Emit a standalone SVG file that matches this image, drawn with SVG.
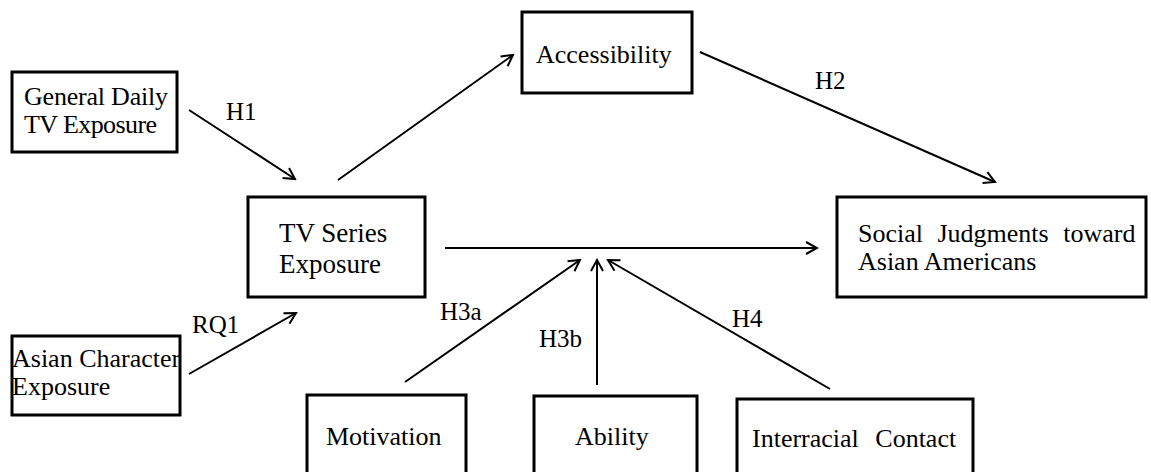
<svg xmlns="http://www.w3.org/2000/svg" width="1151" height="472" viewBox="0 0 1151 472">
<defs>
<style>
.box{fill:#fff;stroke:#000;stroke-width:3}
.t{font-size:26px;fill:#000}
.lbl{font-size:25px;fill:#000}
.c{stroke:#000;stroke-width:2;fill:none;marker-end:url(#ah)}
</style>
<marker id="ah" viewBox="0 0 14 14" refX="12" refY="7" markerWidth="14" markerHeight="14" markerUnits="userSpaceOnUse" orient="auto">
<path d="M1,1 L12,7 L1,13" fill="none" stroke="#000" stroke-width="2"/>
</marker>
</defs>
<rect width="1151" height="472" fill="#fff"/>
<g font-family="Liberation Serif, DejaVu Serif, Noto Serif, FreeSerif, Times, serif">
<g id="connectors">
<line class="c" x1="189" y1="110" x2="295" y2="179"/>
<line class="c" x1="338" y1="180" x2="513" y2="55"/>
<line class="c" x1="700" y1="52" x2="995" y2="182"/>
<line class="c" x1="189" y1="374" x2="296" y2="313"/>
<line class="c" x1="445" y1="248" x2="817" y2="248"/>
<line class="c" x1="405" y1="382" x2="580" y2="260"/>
<line class="c" x1="597" y1="385" x2="597" y2="260"/>
<line class="c" x1="830" y1="389" x2="608" y2="260"/>
<text class="lbl" x="226" y="120">H1</text>
<text class="lbl" x="815" y="89">H2</text>
<text class="lbl" x="192" y="333">RQ1</text>
<text class="lbl" x="440" y="320">H3a</text>
<text class="lbl" x="539" y="347">H3b</text>
<text class="lbl" x="732" y="327">H4</text>
</g>
<g id="general-daily">
<rect class="box" x="12" y="72" width="165" height="80"/>
<text class="t" x="24" y="105" textLength="144">General Daily</text>
<text class="t" x="24" y="133" textLength="133">TV Exposure</text>
</g>
<g id="asian-character">
<rect class="box" x="12" y="336" width="168" height="79"/>
<text class="t" x="12" y="367">Asian Character</text>
<text class="t" x="12" y="395">Exposure</text>
</g>
<g id="tv-series">
<rect class="box" x="248" y="197" width="177" height="100"/>
<text class="t" x="279" y="242" style="font-size:27px">TV Series</text>
<text class="t" x="279" y="273" style="font-size:27px">Exposure</text>
</g>
<g id="accessibility">
<rect class="box" x="522" y="12" width="170" height="81"/>
<text class="t" x="536" y="63">Accessibility</text>
</g>
<g id="social-judgments">
<rect class="box" x="837" y="197" width="309" height="100"/>
<text class="t" x="858" y="242" style="word-spacing:8px">Social Judgments toward</text>
<text class="t" x="858" y="270">Asian Americans</text>
</g>
<g id="motivation">
<rect class="box" x="307" y="395" width="159" height="90"/>
<text class="t" x="326" y="445">Motivation</text>
</g>
<g id="ability">
<rect class="box" x="534" y="396" width="163" height="90"/>
<text class="t" x="575" y="445">Ability</text>
</g>
<g id="interracial-contact">
<rect class="box" x="737" y="399" width="236" height="90"/>
<text class="t" x="752" y="447" style="word-spacing:10px">Interracial Contact</text>
</g>
</g>
</svg>
